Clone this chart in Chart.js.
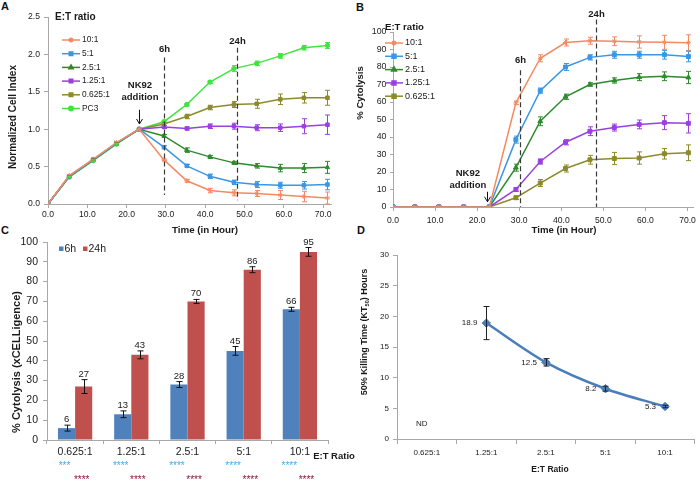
<!DOCTYPE html>
<html lang="en">
<head>
<meta charset="utf-8">
<title>NK92 cytolysis</title>
<script src="https://cdn.jsdelivr.net/npm/chart.js@4.4.1/dist/chart.umd.min.js"></script>
<style>
  html, body { margin: 0; padding: 0; background: #fff; }
  body { position: relative; width: 700px; height: 481px; overflow: hidden; font-family: 'Liberation Sans', Arial, sans-serif; }
  canvas { position: absolute; }
  .painel { position: absolute; font-weight: bold; font-size: 11px; color: #111; line-height: 1; }
</style>
</head>
<body>
<div class="painel" style="left:1px;top:1px">A</div>
<div class="painel" style="left:356px;top:2px">B</div>
<div class="painel" style="left:1px;top:225px">C</div>
<div class="painel" style="left:357px;top:225px">D</div>
<canvas id="chartA" width="350" height="240" style="left:0;top:0"></canvas>
<canvas id="chartB" width="350" height="240" style="left:350px;top:0"></canvas>
<canvas id="chartC" width="360" height="256" style="left:0;top:225px"></canvas>
<canvas id="chartD" width="350" height="256" style="left:350px;top:225px"></canvas>
<script>
// ---- A: normalized cell index
const hoursA = [0, 5.4, 11.5, 17.4, 23.2, 29.5, 35.3, 41.2, 47.3, 53.1, 59.1, 65.1, 71.1]
const labelsA = ['10:1', '5:1', '2.5:1', '1.25:1', '0.625:1', 'PC3']
const indexA10 = [0, 0.38, 0.60, 0.82, 1.0, 0.59, 0.31, 0.18, 0.15, 0.14, 0.12, 0.10, 0.08]
const indexA5 = [0, 0.37, 0.59, 0.81, 1.0, 0.76, 0.51, 0.37, 0.29, 0.26, 0.25, 0.25, 0.26]
const indexA25 = [0, 0.37, 0.59, 0.81, 1.0, 0.91, 0.72, 0.63, 0.55, 0.51, 0.48, 0.48, 0.49]
const indexA125 = [0, 0.37, 0.59, 0.81, 1.0, 1.03, 1.01, 1.04, 1.04, 1.02, 1.02, 1.04, 1.06]
const indexA0625 = [0, 0.37, 0.59, 0.81, 1.0, 1.07, 1.17, 1.29, 1.33, 1.34, 1.40, 1.42, 1.42]
const indexAPC3 = [0, 0.36, 0.58, 0.80, 1.0, 1.10, 1.33, 1.63, 1.81, 1.88, 1.98, 2.09, 2.12]
const errA10 = [0, 0.01, 0.01, 0.01, 0, 0.01, 0.02, 0.03, 0.04, 0.04, 0.06, 0.07, 0.08]
const errA5 = [0, 0.01, 0.01, 0.01, 0, 0.02, 0.02, 0.03, 0.03, 0.04, 0.04, 0.05, 0.07]
const errA25 = [0, 0.01, 0.01, 0.01, 0, 0.02, 0.03, 0.02, 0.02, 0.03, 0.05, 0.06, 0.08]
const errA125 = [0, 0.01, 0.01, 0.01, 0, 0.02, 0.02, 0.03, 0.04, 0.04, 0.05, 0.10, 0.13]
const errA0625 = [0, 0.01, 0.01, 0.01, 0, 0.02, 0.03, 0.03, 0.04, 0.06, 0.07, 0.07, 0.10]
const errAPC3 = [0, 0.01, 0.01, 0.01, 0, 0.02, 0.02, 0.02, 0.04, 0.03, 0.03, 0.03, 0.04]

// ---- B: % cytolysis over time
const hoursB = [0, 5.2, 10.9, 16.8, 22.9, 29.2, 35.0, 41.0, 46.8, 52.6, 58.5, 64.5, 70.2]
const labelsB = ['10:1', '5:1', '2.5:1', '1.25:1', '0.625:1']
const cytoB10 = [0, 0, 0, 0, 0, 59.5, 85, 94, 95, 94.7, 94.3, 94.1, 93.9]
const cytoB5 = [0, 0, 0, 0, 0, 38.5, 66.5, 80, 85.5, 87, 87, 87, 86]
const cytoB25 = [0, 0, 0, 0, 0, 22.5, 49, 63, 70, 72.3, 74.2, 74.7, 74]
const cytoB125 = [0, 0, 0, 0, 0, 10, 26, 37, 43.3, 45.4, 47.2, 48.2, 47.8]
const cytoB0625 = [0, 0, 0, 0, 0, 5.3, 13.7, 22, 27, 27.7, 28, 30.4, 31]
const errB10 = [0, 0, 0, 0, 0, 1, 2, 2, 2, 2.5, 3.5, 4, 4.5]
const errB5 = [0, 0, 0, 0, 0, 2, 1.5, 2, 1.5, 2, 2, 2.5, 3]
const errB25 = [0, 0, 0, 0, 0, 2, 2.5, 1.5, 1, 1.5, 2, 2.5, 3.5]
const errB125 = [0, 0, 0, 0, 0, 1, 1.5, 1.5, 2.5, 2, 2.5, 4, 5.5]
const errB0625 = [0, 0, 0, 0, 0, 1, 2, 2, 2.5, 3.5, 3.5, 3, 4.5]

// ---- C: cytolysis at 6h / 24h
const ratiosC = ['0.625:1', '1.25:1', '2.5:1', '5:1', '10:1']
const barLabelsC = ['6h', '24h']
const cyto6h = [6, 13, 28, 45, 66]
const cyto24h = [27, 43, 70, 86, 95]
const err6h = [1.5, 1.7, 1.5, 2.2, 1]
const err24h = [3.5, 2, 1, 1.5, 2.2]
const stars6h = ['***', '****', '****', '****', '****']
const stars24h = ['****', '****', '****', '****', '****']

// ---- D: KT50
const ratiosD = ['0.625:1', '1.25:1', '2.5:1', '5:1', '10:1']
const kt50 = [null, 18.9, 12.5, 8.2, 5.3]
const errKt50 = [0, 2.7, 0.6, 0.4, 0.2]

const fontFamily = "'Liberation Sans', Arial, Helvetica, sans-serif"
const axisGray = '#a8a8a8'
const textColor = '#1a1a1a'

Chart.defaults.font.family = fontFamily
Chart.defaults.color = textColor
Chart.defaults.animation = false
Chart.defaults.events = []
Chart.defaults.plugins.legend.display = false
Chart.defaults.plugins.tooltip.enabled = false

const colorsA = ['#f48a63', '#3a97e6', '#2e8a2e', '#9a40e0', '#8c8a2c', '#3fe43f']
const pointsA = ['star', 'rect', 'triangle', 'rect', 'rect', 'circle']
const radiiA = [2.5, 2.5, 2.5, 2.5, 2.5, 2.2]

// error bars for any dataset carrying an "errors" array
const errorBars = {
  id: 'errorBars',
  afterDatasetsDraw(chart) {
    const { ctx } = chart
    const yScale = chart.scales.y
    chart.data.datasets.forEach((ds, i) => {
      if (!ds.errors) return
      const meta = chart.getDatasetMeta(i)
      ctx.save()
      ctx.strokeStyle = ds.errorColor
      ctx.lineWidth = 1
      meta.data.forEach((el, j) => {
        const raw = ds.data[j]
        const value = raw !== null && typeof raw === 'object' ? raw.y : raw
        const err = ds.errors[j]
        if (value === null || value === undefined || !err) return
        const top = yScale.getPixelForValue(value + err)
        const bottom = yScale.getPixelForValue(value - err)
        const x = Math.round(el.x) + 0.5
        const c = ds.capHalf
        ctx.beginPath()
        ctx.moveTo(x, top)
        ctx.lineTo(x, bottom)
        ctx.moveTo(x - c, top)
        ctx.lineTo(x + c, top)
        ctx.moveTo(x - c, bottom)
        ctx.lineTo(x + c, bottom)
        ctx.stroke()
      })
      ctx.restore()
    })
  }
}

function axisTitles(items) {
  return {
    id: 'axisTitles',
    afterDraw(chart) {
      const { ctx } = chart
      items.forEach((item) => {
        ctx.save()
        ctx.translate(item.x, item.y)
        if (item.rotate) ctx.rotate(-Math.PI / 2)
        ctx.fillStyle = textColor
        ctx.textBaseline = 'middle'
        ctx.textAlign = 'left'
        const parts = item.parts || [{ text: item.text }]
        const big = `bold ${item.size}px ${fontFamily}`
        const small = `bold ${item.size * 0.62}px ${fontFamily}`
        const widths = parts.map((p) => {
          ctx.font = p.sub ? small : big
          return ctx.measureText(p.text).width
        })
        let x = -widths.reduce((a, b) => a + b, 0) / 2
        parts.forEach((p, k) => {
          ctx.font = p.sub ? small : big
          ctx.fillText(p.text, x, p.sub ? item.size * 0.3 : 0)
          x += widths[k]
        })
        ctx.restore()
      })
    }
  }
}

function insideLegend(cfg) {
  return {
    id: 'insideLegend',
    afterDraw(chart) {
      const { ctx } = chart
      ctx.save()
      ctx.textBaseline = 'middle'
      ctx.textAlign = 'left'
      ctx.fillStyle = textColor
      ctx.font = `bold ${cfg.titleSize}px ${fontFamily}`
      ctx.fillText(cfg.title, cfg.titleX, cfg.titleY)
      ctx.font = `${cfg.size}px ${fontFamily}`
      chart.data.datasets.forEach((ds, i) => {
        const y = cfg.y + i * cfg.gap
        ctx.strokeStyle = ds.borderColor
        ctx.fillStyle = ds.backgroundColor
        ctx.lineWidth = 1.5
        ctx.beginPath()
        ctx.moveTo(cfg.x, y)
        ctx.lineTo(cfg.x + cfg.len, y)
        ctx.stroke()
        Chart.helpers.drawPoint(ctx, { pointStyle: ds.pointStyle, radius: ds.pointRadius, rotation: 0, borderWidth: 1 }, cfg.x + cfg.len / 2, y)
        ctx.fillStyle = textColor
        ctx.fillText(ds.label, cfg.x + cfg.len + 2, y)
      })
      ctx.restore()
    }
  }
}

function timeMarks(lines, arrow, fontSize) {
  return {
    id: 'timeMarks',
    afterDatasetsDraw(chart) {
      const { ctx, scales: { x, y } } = chart
      ctx.save()
      ctx.fillStyle = textColor
      ctx.font = `bold ${fontSize}px ${fontFamily}`
      ctx.textAlign = 'center'
      ctx.textBaseline = 'middle'
      lines.forEach((m) => {
        const px = Math.round(x.getPixelForValue(m.at)) + 0.5
        ctx.strokeStyle = '#3a3a3a'
        ctx.setLineDash([5, 3])
        ctx.lineWidth = 1.2
        ctx.beginPath()
        ctx.moveTo(px, y.getPixelForValue(m.from))
        ctx.lineTo(px, y.getPixelForValue(m.to))
        ctx.stroke()
        ctx.fillText(m.text, px, y.getPixelForValue(m.textAt))
      })
      ctx.setLineDash([])
      const ax = Math.round(x.getPixelForValue(arrow.at)) + 0.5
      const a0 = y.getPixelForValue(arrow.from)
      const a1 = y.getPixelForValue(arrow.to)
      ctx.strokeStyle = '#111'
      ctx.lineWidth = 1
      ctx.beginPath()
      ctx.moveTo(ax, a0)
      ctx.lineTo(ax, a1)
      ctx.moveTo(ax - 3, a1 - 5)
      ctx.lineTo(ax, a1)
      ctx.lineTo(ax + 3, a1 - 5)
      ctx.stroke()
      arrow.text.forEach(([t, v]) => ctx.fillText(t, x.getPixelForValue(arrow.textAt), y.getPixelForValue(v)))
      ctx.restore()
    }
  }
}

function linearAxis(min, max, step, digits, size, tickLen, pad, fit) {
  return {
    type: 'linear',
    min,
    max,
    afterFit: fit,
    ticks: {
      stepSize: step,
      includeBounds: false,
      autoSkip: false,
      maxRotation: 0,
      padding: pad,
      font: { size },
      color: textColor,
      callback: (v) => v.toFixed(digits)
    },
    grid: { drawOnChartArea: false, tickLength: tickLen, color: axisGray },
    border: { color: axisGray }
  }
}

function categoryAxis(size, tickLen, pad, fit) {
  return {
    type: 'category',
    offset: true,
    afterFit: fit,
    ticks: { font: { size }, padding: pad, color: textColor, maxRotation: 0, autoSkip: false },
    grid: { drawOnChartArea: false, tickLength: tickLen, color: axisGray, offset: true },
    border: { color: axisGray }
  }
}

function lineDatasets(labels, hours, values, errors, colors, points, radii) {
  return labels.map((label, i) => ({
    label,
    data: hours.map((h, j) => ({ x: h, y: values[i][j] })),
    errors: errors[i],
    errorColor: colors[i],
    capHalf: 2.5,
    borderColor: colors[i],
    backgroundColor: colors[i],
    pointStyle: points[i],
    pointRadius: radii[i],
    pointBorderWidth: 1,
    borderWidth: 1.5,
    tension: 0
  }))
}

// 📈 A
new Chart(document.getElementById('chartA'), {
  type: 'line',
  data: {
    datasets: lineDatasets(
      labelsA, hoursA,
      [indexA10, indexA5, indexA25, indexA125, indexA0625, indexAPC3],
      [errA10, errA5, errA25, errA125, errA0625, errAPC3],
      colorsA, pointsA, radiiA
    )
  },
  options: {
    responsive: false,
    layout: { padding: { top: 17, right: 19, left: 0, bottom: 0 } },
    scales: {
      x: linearAxis(0, 72, 10, 1, 8.6, 4, 1, (s) => { s.height = 36 }),
      y: linearAxis(0, 2.5, 0.5, 1, 8.6, 4, 4, (s) => { s.width = 48 })
    }
  },
  plugins: [
    errorBars,
    timeMarks(
      [{ at: 29.6, from: 1.96, to: 0.12, text: '6h', textAt: 2.07 },
       { at: 48.0, from: 2.09, to: 0.05, text: '24h', textAt: 2.18 }],
      { at: 23.2, from: 1.26, to: 1.07, textAt: 23.4, text: [['NK92', 1.59], ['addition', 1.43]] },
      9.5
    ),
    insideLegend({ title: 'E:T ratio', titleX: 55, titleY: 17, titleSize: 10, x: 62, y: 40, gap: 13.7, len: 18, size: 8.4 }),
    axisTitles([
      { text: 'Normalized Cell Index', x: 13, y: 117, rotate: true, size: 10 },
      { text: 'Time (in Hour)', x: 205, y: 230, size: 9.8 }
    ])
  ]
})

// 📈 B
new Chart(document.getElementById('chartB'), {
  type: 'line',
  data: {
    datasets: lineDatasets(
      labelsB, hoursB,
      [cytoB10, cytoB5, cytoB25, cytoB125, cytoB0625],
      [errB10, errB5, errB25, errB125, errB0625],
      colorsA, pointsA, [2.5, 2.8, 2.8, 2.8, 2.8]
    )
  },
  options: {
    responsive: false,
    layout: { padding: { top: 32, right: 2, left: 0, bottom: 0 } },
    scales: {
      x: linearAxis(0, 71.5, 10, 1, 8.6, 4, 4, (s) => { s.height = 33 }),
      y: linearAxis(0, 100, 10, 0, 8.8, 3, 3.5, (s) => { s.width = 43 })
    }
  },
  plugins: [
    errorBars,
    timeMarks(
      [{ at: 30.3, from: 78.2, to: 0, text: '6h', textAt: 83.9 },
       { at: 48.3, from: 107.2, to: 0, text: '24h', textAt: 109.8 }],
      { at: 22.4, from: 8.7, to: 3.0, textAt: 17.8, text: [['NK92', 19.2], ['addition', 12.3]] },
      9.5
    ),
    insideLegend({ title: 'E:T ratio', titleX: 35, titleY: 27, titleSize: 9.6, x: 35, y: 43, gap: 13.3, len: 18, size: 9 }),
    axisTitles([
      { text: '% Cytolysis', x: 10, y: 93, rotate: true, size: 9.5 },
      { text: 'Time (in Hour)', x: 214, y: 230, size: 9.6 }
    ])
  ]
})

// 📊 C
const barColorsC = ['#4f81bd', '#c0504d']
const starColorsC = ['#45ade6', '#8b1740']

new Chart(document.getElementById('chartC'), {
  type: 'bar',
  data: {
    labels: ratiosC,
    datasets: [cyto6h, cyto24h].map((values, i) => ({
      label: barLabelsC[i],
      data: values,
      errors: [err6h, err24h][i],
      errorColor: '#111',
      capHalf: 3,
      backgroundColor: barColorsC[i],
      barPercentage: 1,
      categoryPercentage: 0.61
    }))
  },
  options: {
    responsive: false,
    layout: { padding: { top: 17, right: 32, left: 0, bottom: 0 } },
    scales: {
      x: categoryAxis(10.5, 4, 2, (s) => { s.height = 41 }),
      y: linearAxis(0, 100, 10, 0, 10.5, 4, 5, (s) => { s.width = 47 })
    }
  },
  plugins: [
    errorBars,
    {
      id: 'barNotes',
      afterDatasetsDraw(chart) {
        const { ctx, scales: { y } } = chart
        const stars = [stars6h, stars24h]
        const starY = [241, 255]
        ctx.save()
        ctx.textAlign = 'center'
        chart.data.datasets.forEach((ds, i) => {
          chart.getDatasetMeta(i).data.forEach((bar, j) => {
            const v = ds.data[j]
            const top = y.getPixelForValue(v + ds.errors[j])
            ctx.fillStyle = textColor
            ctx.font = `9.5px ${fontFamily}`
            ctx.textBaseline = 'alphabetic'
            ctx.fillText(String(v), bar.x, top - 3)
            ctx.fillStyle = starColorsC[i]
            ctx.font = `10px ${fontFamily}`
            ctx.textBaseline = 'middle'
            ctx.fillText(stars[i][j], bar.x - 2, starY[i])
          })
        })
        // legend
        ctx.textAlign = 'left'
        ctx.textBaseline = 'middle'
        ctx.font = `10.5px ${fontFamily}`
        const legendX = [59, 83]
        chart.data.datasets.forEach((ds, i) => {
          ctx.fillStyle = ds.backgroundColor
          ctx.fillRect(legendX[i], 21.5, 4.5, 4.5)
          ctx.fillStyle = textColor
          ctx.fillText(ds.label, legendX[i] + 5.5, 24)
        })
        ctx.restore()
      }
    },
    axisTitles([
      { text: '% Cytolysis (xCELLigence)', x: 17, y: 137, rotate: true, size: 11 },
      { text: 'E:T Ratio', x: 334, y: 231, size: 9.5 }
    ])
  ]
})

// 📈 D
new Chart(document.getElementById('chartD'), {
  type: 'line',
  data: {
    labels: ratiosD,
    datasets: [{
      label: 'KT50',
      data: kt50,
      errors: errKt50,
      errorColor: '#222',
      capHalf: 3,
      borderColor: '#4a7ebb',
      backgroundColor: '#4a7ebb',
      borderWidth: 2.5,
      pointStyle: 'rectRot',
      pointRadius: 4.2,
      pointBorderWidth: 1,
      tension: 0.3
    }]
  },
  options: {
    responsive: false,
    layout: { padding: { top: 30, right: 2, left: 0, bottom: 0 } },
    scales: {
      x: categoryAxis(8, 5, 4, (s) => { s.height = 42 }),
      y: linearAxis(0, 30, 5, 0, 8, 4, 4, (s) => { s.width = 47 })
    }
  },
  plugins: [
    errorBars,
    {
      id: 'pointNotes',
      afterDatasetsDraw(chart) {
        const { ctx, scales: { x, y } } = chart
        const ds = chart.data.datasets[0]
        ctx.save()
        ctx.fillStyle = textColor
        ctx.font = `8px ${fontFamily}`
        ctx.textBaseline = 'middle'
        chart.getDatasetMeta(0).data.forEach((pt, j) => {
          const v = ds.data[j]
          if (v === null) {
            ctx.textAlign = 'center'
            ctx.fillText('ND', x.getPixelForValue(j) - 5, y.getPixelForValue(2.4))
            return
          }
          ctx.textAlign = 'right'
          ctx.fillText(v.toFixed(1), pt.x - 9, pt.y)
        })
        ctx.restore()
      }
    },
    axisTitles([
      { parts: [{ text: '50% Killing Time (KT' }, { text: '50', sub: true }, { text: ') Hours' }], x: 15, y: 107, rotate: true, size: 9 },
      { text: 'E:T Ratio', x: 200, y: 245, size: 8.5 }
    ])
  ]
})
</script>
</body>
</html>
